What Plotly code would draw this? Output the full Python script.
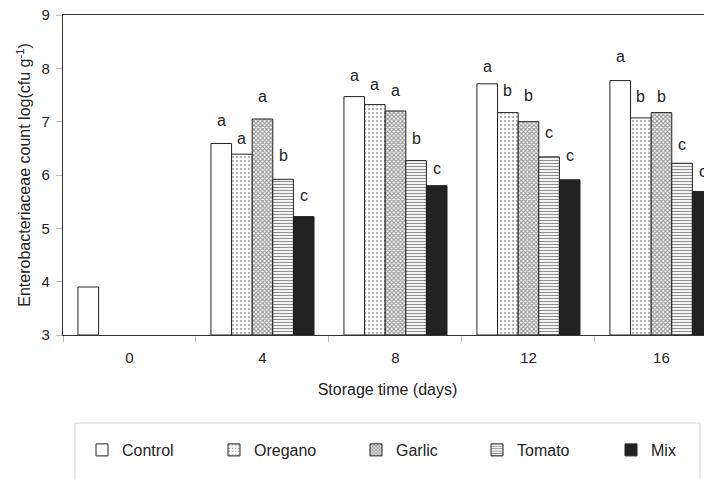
import plotly.graph_objects as go

days = ["0", "4", "8", "12", "16"]
treatments = ["Control", "Oregano", "Garlic", "Tomato", "Mix"]
control = [3.9, 6.59, 7.47, 7.71, 7.77]
oregano = [None, 6.39, 7.32, 7.17, 7.07]
garlic = [None, 7.05, 7.20, 7.00, 7.17]
tomato = [None, 5.92, 6.27, 6.34, 6.22]
mix = [None, 5.22, 5.80, 5.91, 5.69]
values = [control, oregano, garlic, tomato, mix]

# height of significance letter above the mean (unseen error margin)
sd_control = [None, 0.44, 0.40, 0.33, 0.45]
sd_oregano = [None, 0.30, 0.37, 0.42, 0.41]
sd_garlic = [None, 0.43, 0.39, 0.50, 0.31]
sd_tomato = [None, 0.44, 0.42, 0.46, 0.36]
sd_mix = [None, 0.39, 0.33, 0.45, 0.37]
sds = [sd_control, sd_oregano, sd_garlic, sd_tomato, sd_mix]

let_control = ["", "a", "a", "a", "a"]
let_oregano = ["", "a", "a", "b", "b"]
let_garlic = ["", "a", "a", "b", "b"]
let_tomato = ["", "b", "b", "c", "c"]
let_mix = ["", "c", "c", "c", "c"]
letters = [let_control, let_oregano, let_garlic, let_tomato, let_mix]

fills = ["white", "white", "white", "white", "#222222"]
patterns = [
    dict(shape=""),
    dict(shape=".", size=4, solidity=0.18, fgcolor="#333333", bgcolor="white"),
    dict(shape="x", size=3, solidity=0.6, fgcolor="#333333", bgcolor="white"),
    dict(shape="-", size=3, solidity=0.4, fgcolor="#222222", bgcolor="white"),
    dict(shape=""),
]

FONT = "Liberation Sans, Arial, sans-serif"
OFF = 8  # page body margin
W, H = 712 - OFF, 479 - OFF
ML, MT = 63 - OFF, 15 - OFF
MB = H - (335 - OFF)
MR = 0
PW, PH = W - ML - MR, H - MT - MB


def px_x(p):  # page pixel -> paper x
    return (p - OFF - ML) / PW


def px_y(p):  # page pixel -> paper y
    return (H - MB - (p - OFF)) / PH


legend_names = ["legend", "legend2", "legend3", "legend4", "legend5"]
legend_px = [82, 214, 356, 477, 611]

fig = go.Figure()
for i, t in enumerate(treatments):
    fig.add_trace(go.Bar(
        x=days, y=[None if v is None else v - 3 for v in values[i]], base=3, name=t,
        legend=legend_names[i],
        marker=dict(color=fills[i], pattern=patterns[i],
                    line=dict(color="#222222", width=1)),
    ))

n = len(treatments)
group = 0.775
bw = group / n
for i in range(n):
    for j, d in enumerate(days):
        if letters[i][j] and values[i][j] is not None:
            off = -group / 2 + bw * (i + 0.5)
            fig.add_annotation(x=j + off, y=values[i][j] + sds[i][j], xref="x", yref="y",
                               text=letters[i][j], showarrow=False,
                               font=dict(size=16, color="#222222", family=FONT))

fig.add_shape(type="rect", xref="paper", yref="paper",
              x0=px_x(75), x1=px_x(700), y0=px_y(495), y1=px_y(423),
              line=dict(color="#d0d0d0", width=1), fillcolor="rgba(0,0,0,0)")

legends = {}
for i, nm in enumerate(legend_names):
    legends[nm] = dict(orientation="h", x=px_x(legend_px[i]), y=px_y(433),
                       xanchor="left", yanchor="top", font=dict(size=16),
                       bgcolor="rgba(0,0,0,0)", itemwidth=30)

fig.update_layout(
    width=W, height=H,
    margin=dict(l=ML, r=MR, t=MT, b=MB, autoexpand=False),
    paper_bgcolor="white", plot_bgcolor="white",
    barmode="group", bargap=0.225, bargroupgap=0,
    font=dict(family=FONT, size=15, color="#222222"),
    showlegend=True,
    xaxis=dict(type="category", range=[-0.5, 4.38], showline=True, mirror=True,
               linecolor="#333333", linewidth=1.2, ticks="outside", tickson="boundaries",
               ticklen=6, tickcolor="#bbbbbb", showgrid=False, automargin=False,
               tickfont=dict(size=15), ticklabelstandoff=9,
               title=dict(text="Storage time (days)", font=dict(size=16), standoff=18)),
    yaxis=dict(range=[3, 9], dtick=1, showline=True, linecolor="#333333", linewidth=1.2,
               ticks="outside", ticklen=6, tickcolor="#bbbbbb", showgrid=False,
               zeroline=False, ticklabelstandoff=3, automargin=False,
               ticklabeloverflow="allow", tickfont=dict(size=15),
               title=dict(text="Enterobacteriaceae count log(cfu g<sup>-1</sup>)",
                          font=dict(size=16), standoff=6)),
    **legends,
)

fig.write_html("out.html")
